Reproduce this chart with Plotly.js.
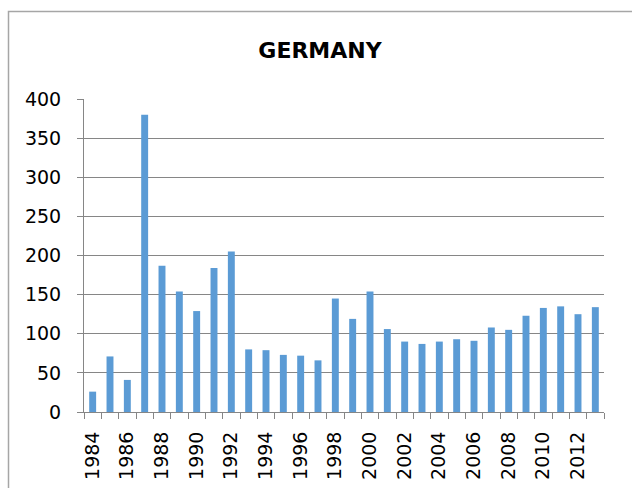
<!DOCTYPE html>
<html>
<head>
<meta charset="utf-8">
<script src="https://cdn.plot.ly/plotly-3.0.1.min.js"></script>
<style>
html,body{margin:0;padding:0;background:#fff;}
#chart{width:632px;height:488px;}
</style>
</head>
<body>
<div id="chart"></div>
<script>
const years = [1984,1985,1986,1987,1988,1989,1990,1991,1992,1993,1994,1995,1996,1997,1998,1999,2000,2001,2002,2003,2004,2005,2006,2007,2008,2009,2010,2011,2012,2013];
const values = [26,71,41,380,187,154,129,184,205,80,79,73,72,66,145,119,154,106,90,87,90,93,91,108,105,123,133,135,125,134];
const tickYears = [1984,1986,1988,1990,1992,1994,1996,1998,2000,2002,2004,2006,2008,2010,2012];
const yTicks = [0,50,100,150,200,250,300,350,400];

const L = 84, R = 604, T = 99, B = 412;
const W = 632, H = 488;
const pw = R - L, ph = B - T;
const px = v => (v - L) / pw;
const py = v => (B - v) / ph;
const FONT = 'DejaVu Sans, sans-serif';

const trace = {
  type: 'bar',
  x: years,
  y: values,
  marker: {color: '#5B9BD5', line: {width: 0}},
  hoverinfo: 'x+y'
};

const layout = {
  width: W, height: H,
  margin: {l: L, r: W - R, t: T, b: H - B, pad: 0},
  paper_bgcolor: '#ffffff',
  plot_bgcolor: '#ffffff',
  showlegend: false,
  bargap: 0.6,
  font: {family: FONT, color: '#000000', size: 19},
  title: {
    text: 'GERMANY',
    font: {family: FONT, size: 22, color: '#000000', weight: 'bold'},
    x: 320 / W, xanchor: 'center', xref: 'container',
    y: 1 - 50 / H, yanchor: 'middle', yref: 'container'
  },
  xaxis: {
    type: 'linear',
    range: [years[0] - 0.5, years[years.length - 1] + 0.5],
    tickmode: 'array',
    tickvals: tickYears,
    ticktext: tickYears.map(String),
    tickangle: -90,
    ticks: '',
    showgrid: false,
    zeroline: false,
    showline: true,
    linecolor: '#868686',
    linewidth: 1,
    ticklabelstandoff: 11,
    tickfont: {size: 19, family: FONT, color: '#000'},
    minor: {
      tickmode: 'linear',
      tick0: years[0] - 0.5,
      dtick: 1,
      ticks: 'outside',
      ticklen: 6,
      tickcolor: '#868686',
      tickwidth: 1,
      showgrid: false
    },
    fixedrange: true
  },
  yaxis: {
    range: [0, 400],
    tickmode: 'array',
    tickvals: yTicks,
    ticktext: yTicks.map(String),
    ticks: 'outside',
    ticklen: 6,
    tickcolor: '#868686',
    tickwidth: 1,
    showgrid: true,
    gridcolor: '#868686',
    gridwidth: 1,
    zeroline: false,
    showline: true,
    linecolor: '#868686',
    linewidth: 1,
    ticklabelstandoff: 12,
    tickfont: {size: 19, family: FONT, color: '#000'},
    fixedrange: true
  },
  shapes: [{
    type: 'rect', xref: 'paper', yref: 'paper',
    x0: px(8.5), x1: px(640), y0: py(500), y1: py(11.5),
    line: {color: '#A6A6A6', width: 1.5},
    fillcolor: 'rgba(0,0,0,0)',
    layer: 'below'
  }]
};

Plotly.newPlot('chart', [trace], layout, {displayModeBar: false, staticPlot: true});
</script>
</body>
</html>
